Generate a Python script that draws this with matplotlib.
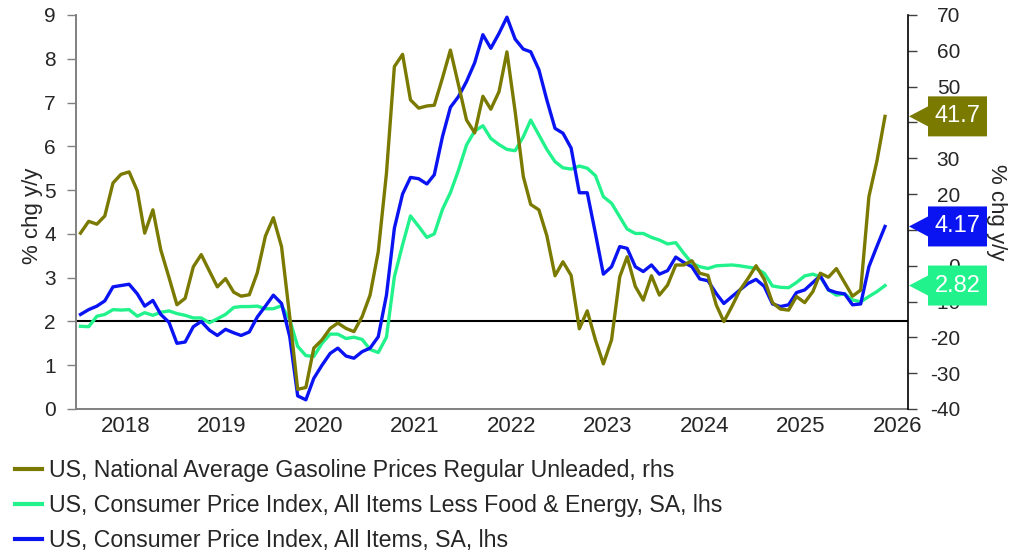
import pandas as pd
import matplotlib
matplotlib.use("Agg")
import matplotlib.pyplot as plt
import matplotlib.dates as mdates
import matplotlib.transforms as mtransforms
from matplotlib.patches import Polygon

plt.rcParams["font.family"] = ["Liberation Sans", "DejaVu Sans"]
plt.rcParams["axes.unicode_minus"] = False

# monthly observations, Jul 2017 .. Nov 2025 (plotted mid-month)
dates = pd.date_range("2017-07-01", periods=101, freq="MS") + pd.Timedelta(days=14)

# US national average gasoline price, regular unleaded, % y/y (rhs)
gasoline = [
    9.1, 12.4, 11.6, 13.9, 23.1, 25.5, 26.2, 20.9, 9.1, 15.6,
    4.4, -3.3, -10.9, -9.1, -0.3, 3.1, -1.5, -5.9, -3.6, -7.4,
    -8.5, -8.1, -2.0, 8.3, 13.4, 5.3, -14.3, -34.5, -34.0, -23.0,
    -20.7, -17.5, -16.0, -17.5, -18.4, -14.2, -8.2, 3.9, 25.8, 55.6,
    59.0, 46.3, 44.0, 44.6, 44.8, 52.4, 60.2, 50.4, 40.7, 37.1,
    47.3, 43.7, 48.6, 59.7, 43.1, 24.9, 17.1, 15.6, 8.4, -2.8,
    1.1, -2.7, -17.6, -12.6, -20.7, -27.4, -20.7, -3.1, 2.5, -5.8,
    -9.6, -2.8, -8.2, -5.4, 0.2, 0.2, 1.4, -2.1, -2.7, -10.9,
    -15.6, -11.3, -6.8, -3.5, 0.0, -3.8, -10.3, -12.1, -12.4, -8.6,
    -10.3, -7.2, -2.1, -3.2, -0.8, -4.7, -8.5, -6.8, 19.3, 29.1,
    41.7,
]

# US CPI less food & energy, SA, % y/y (lhs)
core = [
    1.89, 1.88, 2.12, 2.16, 2.27, 2.26, 2.27, 2.12, 2.20, 2.14,
    2.21, 2.24, 2.18, 2.14, 2.08, 2.08, 1.97, 2.06, 2.16, 2.32,
    2.34, 2.34, 2.35, 2.29, 2.29, 2.36, 2.04, 1.43, 1.22, 1.20,
    1.50, 1.71, 1.71, 1.61, 1.64, 1.59, 1.36, 1.29, 1.64, 3.02,
    3.75, 4.41, 4.17, 3.92, 4.00, 4.56, 4.94, 5.46, 6.03, 6.35,
    6.47, 6.18, 6.04, 5.93, 5.90, 6.22, 6.60, 6.26, 5.93, 5.65,
    5.51, 5.48, 5.55, 5.50, 5.33, 4.85, 4.70, 4.39, 4.11, 4.01,
    4.01, 3.92, 3.86, 3.77, 3.80, 3.56, 3.33, 3.25, 3.21, 3.27,
    3.28, 3.29, 3.27, 3.24, 3.21, 3.10, 2.81, 2.78, 2.77, 2.89,
    3.04, 3.08, 3.02, 2.72, 2.60, 2.63, 2.49, 2.45, 2.57, 2.68,
    2.82,
]

# US CPI all items, SA, % y/y (lhs)
headline = [
    2.16, 2.27, 2.35, 2.47, 2.79, 2.82, 2.85, 2.63, 2.35, 2.48,
    2.16, 1.98, 1.50, 1.53, 1.88, 2.00, 1.80, 1.68, 1.82, 1.74,
    1.68, 1.76, 2.10, 2.35, 2.60, 2.41, 1.65, 0.30, 0.21, 0.70,
    1.00, 1.27, 1.39, 1.21, 1.16, 1.31, 1.39, 1.65, 2.60, 4.13,
    4.91, 5.29, 5.26, 5.14, 5.35, 6.22, 6.89, 7.14, 7.48, 7.91,
    8.55, 8.24, 8.58, 8.95, 8.45, 8.22, 8.16, 7.75, 7.06, 6.41,
    6.30, 5.96, 4.94, 4.94, 4.01, 3.08, 3.25, 3.71, 3.67, 3.25,
    3.14, 3.29, 3.08, 3.16, 3.47, 3.35, 3.25, 2.97, 2.93, 2.64,
    2.41, 2.57, 2.72, 2.87, 2.96, 2.80, 2.40, 2.34, 2.38, 2.66,
    2.72, 2.89, 3.04, 2.72, 2.66, 2.63, 2.38, 2.40, 3.25, 3.71,
    4.17,
]

labels = [
    "US, National Average Gasoline Prices Regular Unleaded, rhs",
    "US, Consumer Price Index, All Items Less Food & Energy, SA, lhs",
    "US, Consumer Price Index, All Items, SA, lhs",
]

OLIVE = "#7a7a00"
GREEN = "#22f28c"
BLUE = "#0a14f2"
TXT = "#262626"

LHS = (0, 9)
RHS = (-40, 70)


def lhs_to_rhs(v):
    return RHS[0] + (v - LHS[0]) * (RHS[1] - RHS[0]) / (LHS[1] - LHS[0])


fig = plt.figure(figsize=(10.21, 5.54), dpi=100)
ax = fig.add_axes([76 / 1021, 1 - 409 / 554, 832 / 1021, 394 / 554])
ax2 = ax.twinx()

ax.axhline(2, color="black", lw=1.5, zorder=1)
l_core, = ax.plot(dates, core, color=GREEN, lw=2.4, zorder=3)
l_head, = ax.plot(dates, headline, color=BLUE, lw=2.4, zorder=4)
l_gas, = ax2.plot(dates, gasoline, color=OLIVE, lw=2.4)

ax.set_xlim(pd.Timestamp("2017-06-28"), pd.Timestamp("2026-02-10"))
ax.set_ylim(*LHS)
ax2.set_ylim(*RHS)
ax.set_yticks(range(0, 10))
ax2.set_yticks(range(-40, 80, 10))
ax.xaxis.set_major_locator(mdates.YearLocator())
ax.xaxis.set_major_formatter(mdates.DateFormatter("%Y"))

for s in ["top", "right"]:
    ax.spines[s].set_visible(False)
for s in ["top", "left", "bottom"]:
    ax2.spines[s].set_visible(False)
ax.spines["left"].set_color("#808080")
ax.spines["left"].set_linewidth(1.4)
ax.spines["bottom"].set_color("#808080")
ax.spines["bottom"].set_linewidth(1.4)
ax2.spines["right"].set_color("black")
ax2.spines["right"].set_linewidth(1.2)

ax.tick_params(axis="y", length=6.5, width=1, color="#808080", pad=8,
               labelsize=15, labelcolor=TXT)
ax.tick_params(axis="x", length=0, pad=5, labelsize=16, labelcolor=TXT)
ax2.tick_params(axis="y", length=6.5, width=1, color="#404040", pad=31,
                labelsize=15, labelcolor=TXT)
plt.setp(ax2.get_yticklabels(), ha="right")

ax.set_ylabel("% chg y/y", fontsize=16, color=TXT)
ax.yaxis.set_label_coords(-0.040, 0.49)
fig.text(996 / 1021, 1 - 212 / 554, "% chg y/y", rotation=270, fontsize=16,
         color=TXT, ha="center", va="center")

# value tags on the right edge
trans = mtransforms.blended_transform_factory(ax2.transAxes, ax2.transData)
half_h = 20 / 394 * (RHS[1] - RHS[0])
half_tip = 10 / 394 * (RHS[1] - RHS[0])
x_tip, x_l, x_r = 833 / 832, 852 / 832, 911 / 832
tags = [
    (gasoline[-1], OLIVE, f"{gasoline[-1]:.1f}"),
    (lhs_to_rhs(headline[-1]), BLUE, f"{headline[-1]:.2f}"),
    (lhs_to_rhs(core[-1]), GREEN, f"{core[-1]:.2f}"),
]
for yv, col, txt in tags:
    pts = [(x_tip, yv), (x_l, yv + half_tip), (x_l, yv + half_h),
           (x_r, yv + half_h), (x_r, yv - half_h), (x_l, yv - half_h),
           (x_l, yv - half_tip)]
    ax2.add_patch(Polygon(pts, closed=True, facecolor=col, edgecolor="none",
                          transform=trans, clip_on=False, zorder=10))
    ax2.text((x_l + x_r) / 2, yv, txt, transform=trans, color="white",
             fontsize=17, ha="center", va="center", zorder=11, clip_on=False)

leg = fig.legend([l_gas, l_core, l_head], labels, loc="upper left",
                 bbox_to_anchor=(15 / 1021, 1 - 459 / 554), frameon=False,
                 fontsize=16.7, handlelength=1.17, handletextpad=0.3,
                 labelspacing=0.52, borderpad=0, borderaxespad=0)
for t in leg.get_texts():
    t.set_color(TXT)
for h in leg.get_lines():
    h.set_linewidth(3)

fig.savefig("out.png", dpi=100)
